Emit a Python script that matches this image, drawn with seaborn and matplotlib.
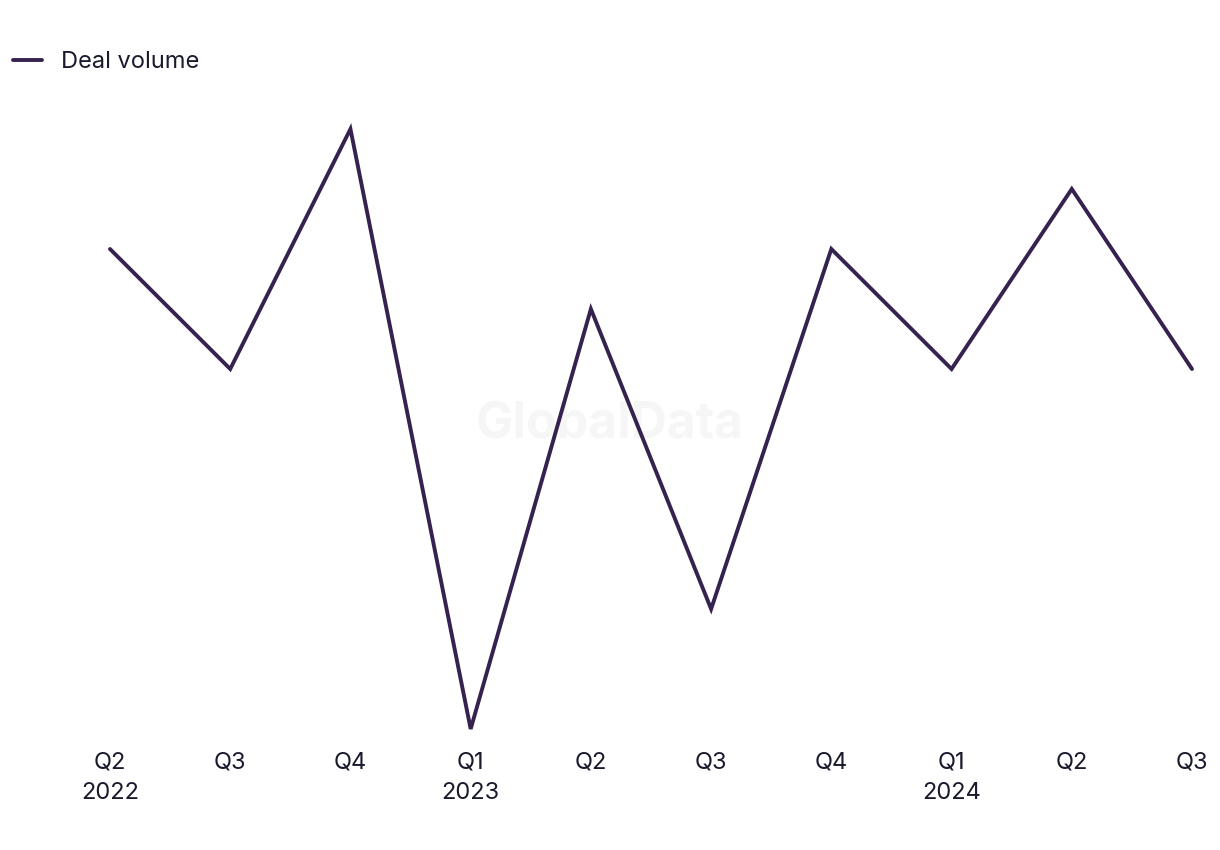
import matplotlib
matplotlib.use("Agg")
import matplotlib.pyplot as plt
import seaborn as sns
import pandas as pd

quarters = ["Q2\n2022", "Q3", "Q4", "Q1\n2023", "Q2", "Q3", "Q4", "Q1\n2024", "Q2", "Q3"]
deal_volume = [9, 7, 11, 1, 8, 3, 9, 7, 10, 7]

df = pd.DataFrame({"idx": range(len(quarters)), "Deal volume": deal_volume})

sns.set_theme(style="white")
plt.rcParams['font.family'] = ['Inter', 'DejaVu Sans']

fig = plt.figure(figsize=(12.2, 8.5), dpi=100)
ax = fig.add_axes([110/1220, (850-729)/850, 1082/1220, 600/850])
ax.patch.set_visible(False)
color = "#35224f"
sns.lineplot(data=df, x="idx", y="Deal volume", ax=ax, color=color, linewidth=2.8,
             label="Deal volume", legend=False, zorder=3)
for l in ax.lines:
    l.set_clip_on(False)
    l.set_solid_joinstyle("miter")

ax.set_xlim(0, len(quarters) - 1)
ax.set_ylim(min(deal_volume), max(deal_volume))
ax.set_xticks(range(len(quarters)))
ax.set_xticklabels(quarters, fontsize=17, color="#1a1a2e", linespacing=1.5, va="top")
ax.tick_params(axis="x", length=0, pad=16)
ax.set_yticks([])
ax.set_xlabel("")
ax.set_ylabel("")
for s in ax.spines.values():
    s.set_visible(False)

ax.text(610/1220, 1 - 425/850, "GlobalData", ha="center", va="center",
        transform=fig.transFigure, fontsize=36, fontweight="bold",
        color="#f6f6f6", zorder=0)

handles, labels = ax.get_legend_handles_labels()
fig.legend(handles, labels, loc="center left", bbox_to_anchor=(4/1220, 1 - 62/850),
           frameon=False, fontsize=17, handlelength=1.2, handletextpad=0.8,
           borderaxespad=0.0, borderpad=0.4, labelcolor="#1a1a2e")

fig.savefig("out.png", dpi=100)
